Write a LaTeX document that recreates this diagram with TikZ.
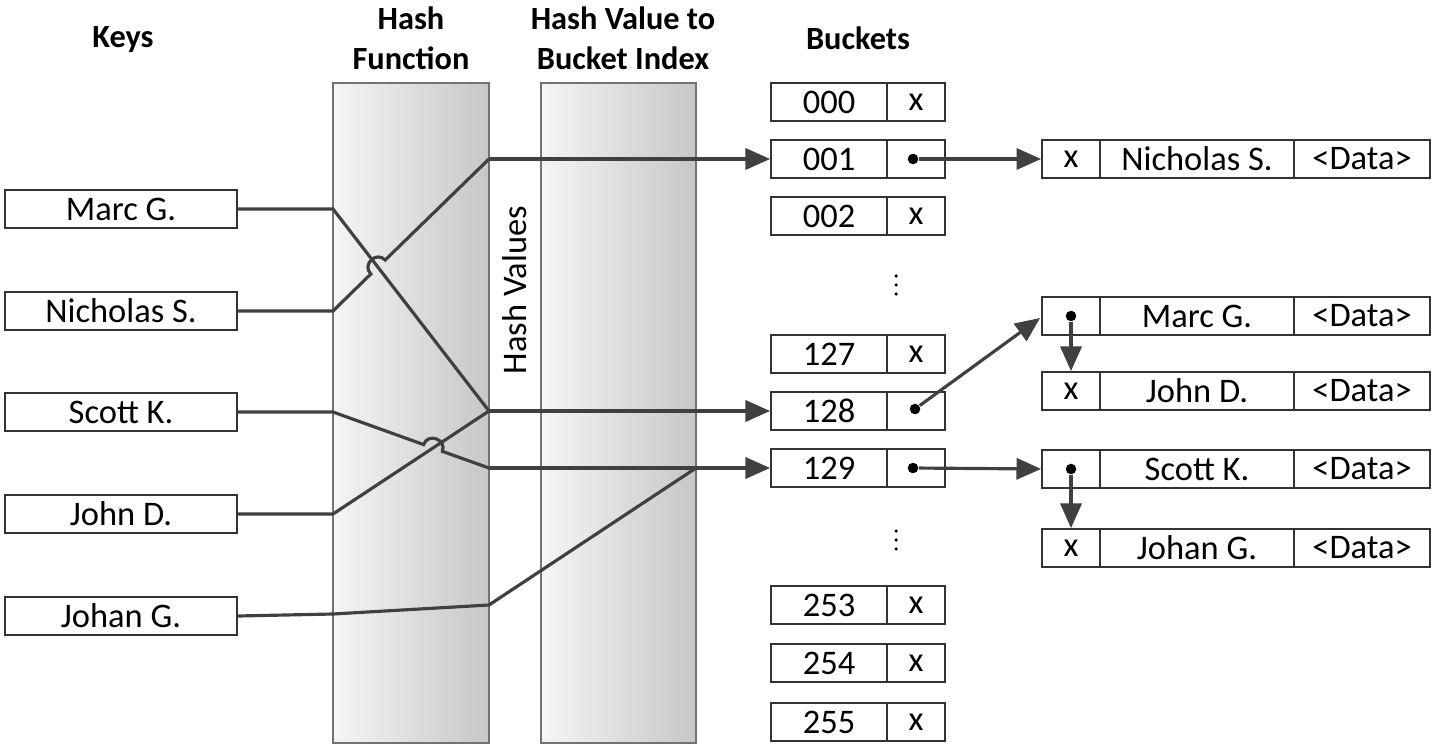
\documentclass[tikz,border=0pt]{standalone}
\usepackage{fontspec}
\setmainfont{Carlito}
\usetikzlibrary{arrows.meta}
\begin{document}
\begin{tikzpicture}[x=0.01cm,y=-0.01cm,
  box/.style={draw=black!80,line width=0.5pt,inner sep=0pt,anchor=center,font=\fontsize{9.8}{11}\selectfont},
  key/.style={box,minimum width=2.32cm,minimum height=0.38cm},
  bidx/.style={box,minimum width=1.16cm,minimum height=0.38cm},
  bptr/.style={box,minimum width=0.58cm,minimum height=0.38cm},
  ename/.style={box,minimum width=1.94cm,minimum height=0.38cm},
  edata/.style={box,minimum width=1.36cm,minimum height=0.38cm},
  col/.style={draw=black!55,line width=0.4pt,left color=black!4,right color=black!22},
  head/.style={font=\fontsize{9.2}{11.4}\selectfont\bfseries,align=center},
  ln/.style={draw=black!75,line width=0.9pt},
  arr/.style={ln,-{Triangle[length=7pt,width=6pt]}},
  dot/.style={circle,fill=black,inner sep=0pt,minimum size=3pt},
  vd/.style={circle,fill=black,inner sep=0pt,minimum size=1pt}]
\useasboundingbox (0,0) rectangle (1434,749);
% columns
\path[col] (333,83) rectangle (489,743);
\path[col] (541,83) rectangle (696,743);
\node[rotate=90,font=\fontsize{9.8}{11}\selectfont] (hv) at (515,290) {Hash Values};
% headers
\node[head] (h1) at (123,40) {Keys};
\node[head] (h2) at (411,38) {Hash\\Function};
\node[head] (h3) at (623,38) {Hash Value to\\Bucket Index};
\node[head] (h4) at (858,38) {Buckets};
% keys
\node[key] (k1) at (121,209) {Marc G.};
\node[key] (k2) at (121,311) {Nicholas S.};
\node[key] (k3) at (121,412) {Scott K.};
\node[key] (k4) at (121,514) {John D.};
\node[key] (k5) at (121,616) {Johan G.};
% buckets
\foreach \n/\y/\p in {000/102/x,001/159/,002/216/x,127/354/x,128/411/,129/468/,253/605/x,254/663/x,255/722/x}{
  \node[bidx] (b\n) at (829,\y) {\n};
  \node[bptr] (p\n) at (916,\y) {\p};
}
\foreach \y [count=\i] in {276,285,294}{ \node[vd] (da\i) at (896,\y) {}; }
\foreach \y [count=\i] in {531,540,549}{ \node[vd] (db\i) at (896,\y) {}; }
% entries
\foreach \id/\y/\p/\nm in {en/159/x/Nicholas S.,em/316//Marc G.,ej/391/x/John D.,es/469//Scott K.,eg/548/x/Johan G.}{
  \node[bptr] (\id p) at (1071,\y) {\p};
  \node[ename] (\id n) at (1197,\y) {\nm};
  \node[edata] (\id d) at (1362,\y) {<Data>};
}
% coordinates
\coordinate (c1) at (333,209); \coordinate (c2) at (333,311);
\coordinate (c3) at (333,412); \coordinate (c4) at (333,514);
\coordinate (c5) at (333,614);
\coordinate (m128) at (489,411); \coordinate (m001) at (489,159);
\coordinate (m129) at (489,468); \coordinate (m5) at (489,605);
\coordinate (j129) at (696,468);
\coordinate (t128) at (1040,318);
% lines
\draw[ln] (k1.east) -- (c1) -- (m128);
\draw[ln] (k2.east) -- (c2) -- (370.8,274) .. controls (361.7,264.7) and (376.1,250.7) .. (385.2,260) -- (m001);
\draw[arr] (m001) -- (b001.west);
\draw[ln] (k4.east) -- (c4) -- (m128);
\draw[arr] (m128) -- (b128.west);
\draw[ln] (k3.east) -- (c3) -- (423.6,444.6) .. controls (428,432.4) and (446.8,439.2) .. (442.4,451.4) -- (m129);
\draw[arr] (m129) -- (b129.west);
\draw[ln] (k5.east) -- (c5) -- (m5) -- (j129);
% pointers
\node[dot] (q001) at (913,159) {};
\node[dot] (q128) at (915,409) {};
\node[dot] (q129) at (913,468) {};
\node[dot] (qm) at (1071,316) {};
\node[dot] (qs) at (1071,469) {};
\draw[arr] (q001) -- (enp.west);
\draw[arr] (q128) -- (t128);
\draw[arr] (q129) -- (esp.west);
\draw[arr] (qm) -- (ejp.north);
\draw[arr] (qs) -- (egp.north);
\end{tikzpicture}
\end{document}
